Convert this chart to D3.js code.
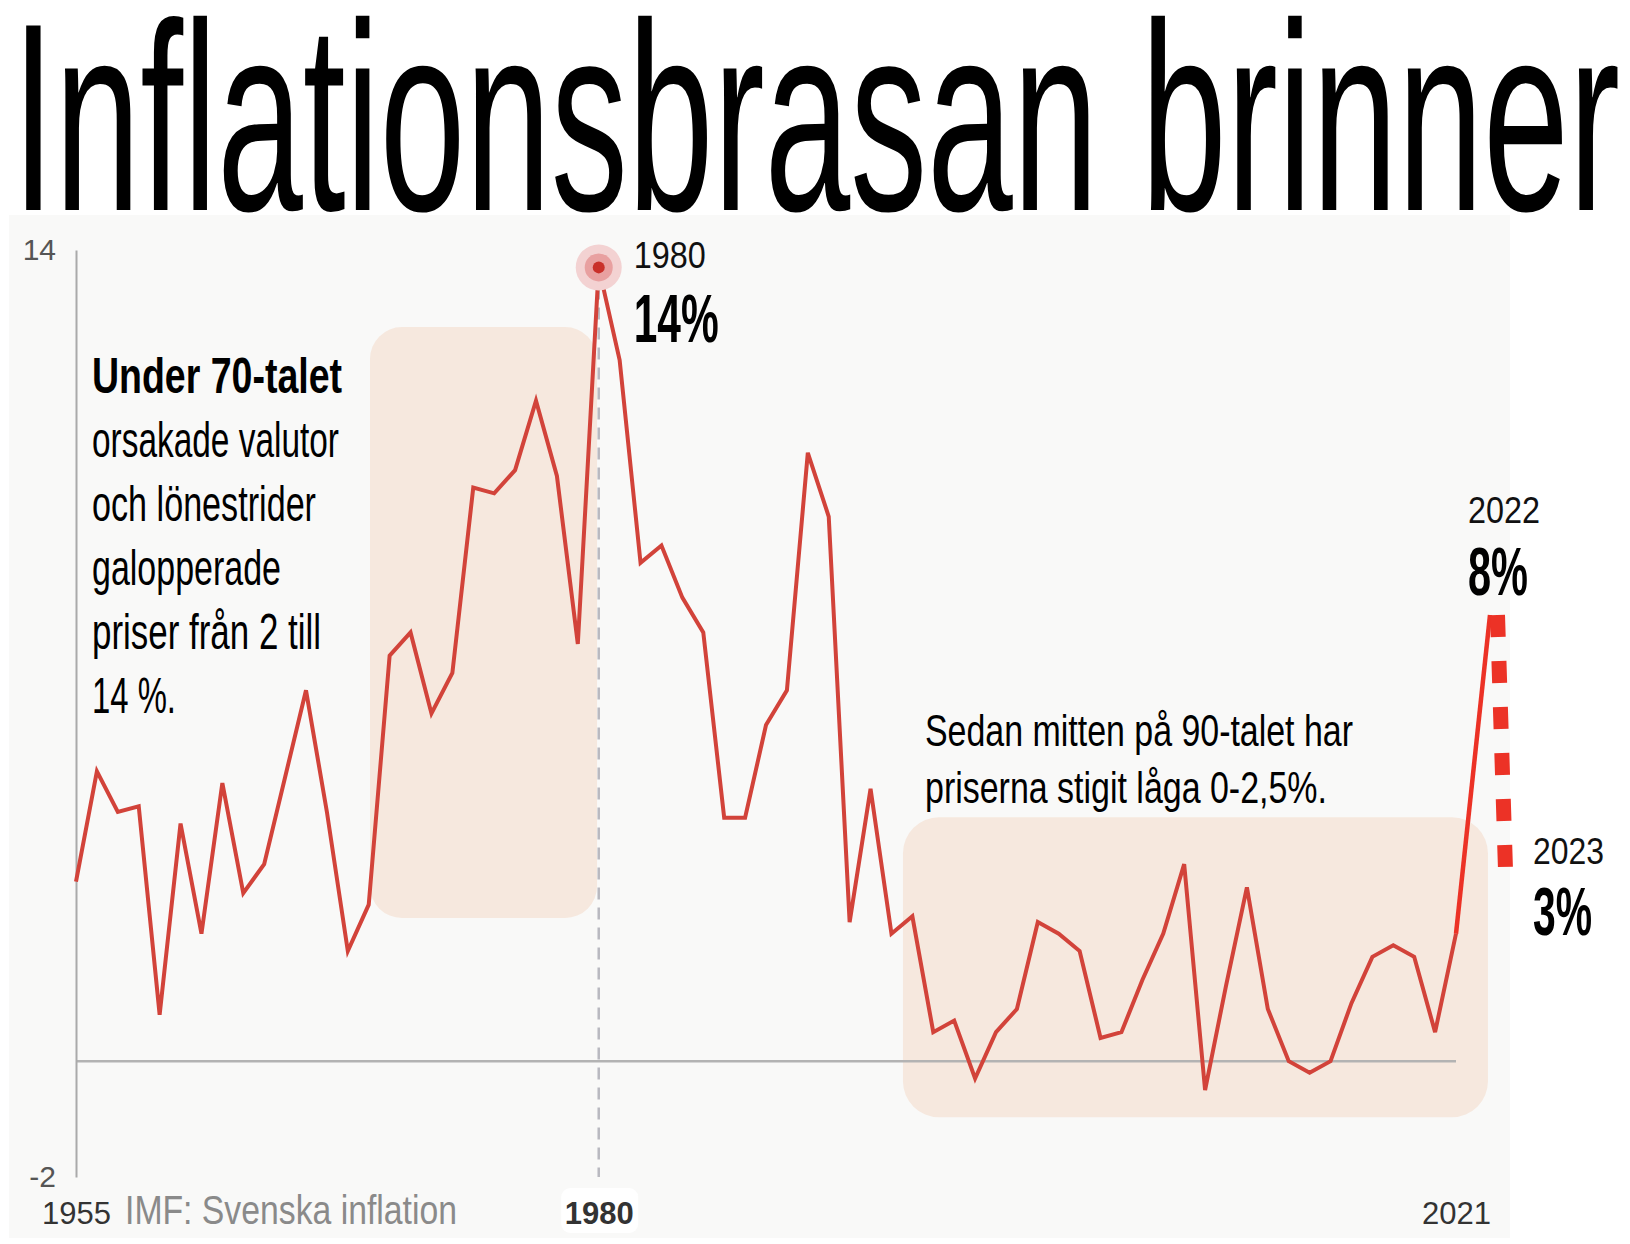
<!DOCTYPE html>
<html>
<head>
<meta charset="utf-8">
<script src="https://cdn.jsdelivr.net/npm/d3@7"></script>
<style>
  html, body { margin: 0; padding: 0; background: #fff; }
  svg { display: block; }
  text { font-family: 'Liberation Sans Narrow', 'Liberation Sans', Arial, sans-serif; }
</style>
</head>
<body>
<div class="chart"></div>
<script>
// data
const years = [1955, 1956, 1957, 1958, 1959, 1960, 1961, 1962, 1963, 1964,
               1965, 1966, 1967, 1968, 1969, 1970, 1971, 1972, 1973, 1974,
               1975, 1976, 1977, 1978, 1979, 1980, 1981, 1982, 1983, 1984,
               1985, 1986, 1987, 1988, 1989, 1990, 1991, 1992, 1993, 1994,
               1995, 1996, 1997, 1998, 1999, 2000, 2001, 2002, 2003, 2004,
               2005, 2006, 2007, 2008, 2009, 2010, 2011, 2012, 2013, 2014,
               2015, 2016, 2017, 2018, 2019, 2020, 2021];
const inflation = [3.1, 5.0, 4.3, 4.4, 0.8, 4.1, 2.2, 4.8, 2.9, 3.4,
                   4.9, 6.4, 4.3, 1.9, 2.7, 7.0, 7.4, 6.0, 6.7, 9.9,
                   9.8, 10.2, 11.4, 10.1, 7.2, 13.7, 12.1, 8.6, 8.9, 8.0,
                   7.4, 4.2, 4.2, 5.8, 6.4, 10.5, 9.4, 2.4, 4.7, 2.2,
                   2.5, 0.5, 0.7, -0.3, 0.5, 0.9, 2.4, 2.2, 1.9, 0.4,
                   0.5, 1.4, 2.2, 3.4, -0.5, 1.3, 3.0, 0.9, 0.0, -0.2,
                   0.0, 1.0, 1.8, 2.0, 1.8, 0.5, 2.2];
const latestYears = [2021, 2022];
const latestValues = [2.2, 7.7];
const outlookYears = [2022, 2023];
const outlookValues = [7.7, 3.3];

const yTicks = [14, -2];
const xTicks = [1955, 1980, 2021];

// shaded periods: [fromYear, toYear, low, high]
const periods = [
  [1969.06, 1979.92, 2.47, 12.67],
  [1994.55, 2021.94, -0.97, 4.21]
];

const callouts = [
  { year: 1980, value: 13.7, small: '1980', big: '14%' },
  { year: 2022, value: 7.7, small: '2022', big: '8%' },
  { year: 2023, value: 3.3, small: '2023', big: '3%' }
];

const title = 'Inflationsbrasan brinner';
const source = 'IMF: Svenska inflation';
const noteLeft = ['Under 70-talet', 'orsakade valutor', 'och lönestrider', 'galopperade', 'priser från 2 till', '14 %.'];
const noteRight = ['Sedan mitten på 90-talet har', 'priserna stigit låga 0-2,5%.'];

// layout
const svg_width = 1630;
const svg_height = 1244;
const lineColor = '#d2433a';
const hotColor = '#ec3226';

const svg = d3.select('.chart')
  .append('svg')
  .attr('width', svg_width)
  .attr('height', svg_height);

function label(g, str, x, y, o) {
  const t = g.append('text')
    .attr('x', x)
    .attr('y', y)
    .attr('font-size', o.size)
    .attr('font-weight', o.weight || 'normal')
    .attr('fill', o.fill || '#111')
    .attr('text-anchor', o.anchor || 'start')
    .text(str);
  if (o.width) {
    t.attr('textLength', o.width).attr('lengthAdjust', 'spacingAndGlyphs');
  }
  return t;
}

// title
label(svg, title, 12, 210, { size: 268, width: 1608, fill: '#000' });

// panel
svg.append('rect')
  .attr('x', 9)
  .attr('y', 215)
  .attr('width', 1501)
  .attr('height', 1023)
  .attr('fill', '#f9f9f8');

// scales
const x = d3.scaleLinear()
  .domain([1955, 2021, 2022, 2023])
  .range([76, 1456, 1490, 1498]);
const y = d3.scaleLinear()
  .domain([-2, 14])
  .range([1177, 250]);

// shaded periods
svg.selectAll('.period')
  .data(periods)
  .join('rect')
  .attr('class', 'period')
  .attr('x', d => x(d[0]))
  .attr('y', d => y(d[3]))
  .attr('width', d => x(d[1]) - x(d[0]))
  .attr('height', d => y(d[2]) - y(d[3]))
  .attr('rx', (d, i) => i === 0 ? 32 : 36)
  .attr('fill', '#f6e8de');

// zero line
svg.append('line')
  .attr('x1', x(1955))
  .attr('x2', x(2021))
  .attr('y1', y(0))
  .attr('y2', y(0))
  .attr('stroke', '#b3b3b3')
  .attr('stroke-width', 2.5);

// 1980 guide
const peak = callouts[0];
svg.append('line')
  .attr('x1', x(peak.year))
  .attr('x2', x(peak.year))
  .attr('y1', y(peak.value))
  .attr('y2', y(-2))
  .attr('stroke', '#b9b9c0')
  .attr('stroke-width', 2.5)
  .attr('stroke-dasharray', '12,8');

// y axis
const yAxis = d3.axisLeft(y)
  .tickValues(yTicks)
  .tickFormat(d => String(d))
  .tickSize(0)
  .tickSizeOuter(0)
  .tickPadding(20);
const yAxisDraw = svg.append('g')
  .attr('class', 'y axis')
  .attr('transform', `translate(${x(1955)},0)`)
  .call(yAxis);
yAxisDraw.attr('font-family', null);
yAxisDraw.select('.domain')
  .attr('stroke', '#aaaaaa')
  .attr('stroke-width', 2);
yAxisDraw.selectAll('text')
  .attr('font-size', 30)
  .attr('fill', '#555');

// x axis labels
const xAxis = d3.axisBottom(x)
  .tickValues(xTicks)
  .tickFormat(d => String(d))
  .tickSize(0)
  .tickSizeOuter(0);
const xAxisDraw = svg.append('g')
  .attr('class', 'x axis')
  .attr('transform', `translate(0,${y(-2)})`)
  .call(xAxis);
xAxisDraw.attr('font-family', null);
xAxisDraw.select('.domain').remove();
xAxisDraw.selectAll('.tick')
  .filter(d => d === peak.year)
  .insert('rect', 'text')
  .attr('x', -38)
  .attr('y', 11)
  .attr('width', 77)
  .attr('height', 45)
  .attr('rx', 9)
  .attr('fill', '#ffffff');
xAxisDraw.selectAll('text')
  .attr('y', 47)
  .attr('dy', 0)
  .attr('font-size', 31)
  .attr('fill', '#333')
  .attr('font-weight', d => d === peak.year ? 'bold' : 'normal');

// source
label(svg, source, 125, 1224, { size: 40, width: 332, fill: '#8a8a8a' });

// main series
const series = years.map((yr, i) => ({ year: yr, value: inflation[i] }));
const line = d3.line()
  .x(d => x(d.year))
  .y(d => y(d.value));

svg.append('path')
  .datum(series)
  .attr('fill', 'none')
  .attr('stroke', lineColor)
  .attr('stroke-width', 4)
  .attr('d', line);

svg.append('path')
  .datum(latestYears.map((yr, i) => ({ year: yr, value: latestValues[i] })))
  .attr('fill', 'none')
  .attr('stroke', hotColor)
  .attr('stroke-width', 4.5)
  .attr('d', line);

// outlook 2022 -> 2023 (sits just right of the line tip)
const dashW = 15;
svg.append('path')
  .datum(outlookYears.map((yr, i) => ({ year: yr, value: outlookValues[i] })))
  .attr('fill', 'none')
  .attr('stroke', hotColor)
  .attr('stroke-width', dashW)
  .attr('stroke-dasharray', '22,24')
  .attr('transform', `translate(${dashW / 2},0)`)
  .attr('d', line);

// peak marker
const marker = svg.append('g')
  .attr('transform', `translate(${x(peak.year)},${y(peak.value)})`);
marker.append('circle').attr('r', 23).attr('fill', '#f3d2d2');
marker.append('circle').attr('r', 14).attr('fill', '#e8a0a0');
marker.append('circle').attr('r', 6).attr('fill', '#c9302a');

// callout labels
const calloutPos = {
  '1980': { dx: 35, dySmall: 1, dyBig: 75, wSmall: 72, wBig: 85 },
  '2022': { dx: -22, dySmall: -92, dyBig: -20, wSmall: 72, wBig: 60 },
  '2023': { dx: 35, dySmall: -6, dyBig: 65, wSmall: 71, wBig: 59 }
};
callouts.forEach(c => {
  const p = calloutPos[c.small];
  const cx = x(c.year) + p.dx;
  const cy = y(c.value);
  label(svg, c.small, cx, cy + p.dySmall, { size: 36, width: p.wSmall });
  label(svg, c.big, cx, cy + p.dyBig, { size: 68, weight: 'bold', width: p.wBig, fill: '#000' });
});

// notes
const leftWidths = [250, 247, 224, 189, 229, 84];
noteLeft.forEach((s, i) => {
  label(svg, s, 92, 393 + i * 64, {
    size: 50,
    weight: i === 0 ? 'bold' : 'normal',
    width: leftWidths[i],
    fill: '#000'
  });
});
const rightWidths = [428, 402];
noteRight.forEach((s, i) => {
  label(svg, s, 925, 746 + i * 57, { size: 45, width: rightWidths[i], fill: '#000' });
});
</script>
</body>
</html>
